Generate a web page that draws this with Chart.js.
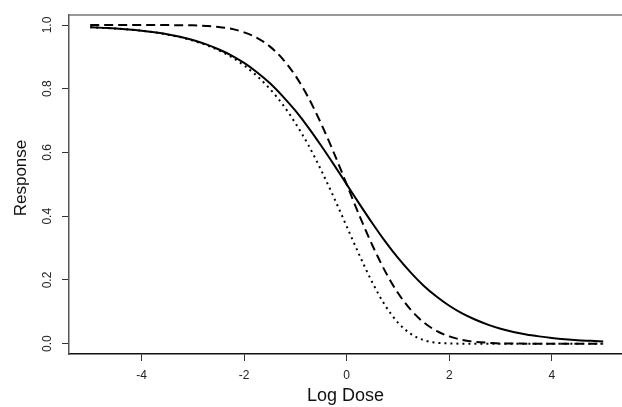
<!DOCTYPE html>
<html>
<head>
<meta charset="utf-8">
<script src="https://cdn.jsdelivr.net/npm/chart.js"></script>
<style>
  body { margin: 0; background: #fff; }
  #wrap { width: 622px; height: 407px; position: relative; }
</style>
</head>
<body>
<div id="wrap"><canvas id="chart"></canvas></div>
<script>
const logDose = [
  -5, -4.75, -4.5, -4.25, -4, -3.75, -3.5, -3.25, -3, -2.75, -2.5, -2.25, -2,
  -1.75, -1.5, -1.25, -1, -0.75, -0.5, -0.25, 0, 0.25, 0.5, 0.75, 1, 1.25,
  1.5, 1.75, 2, 2.25, 2.5, 2.75, 3, 3.25, 3.5, 3.75, 4, 4.25, 4.5, 4.75, 5
];

// Solid curve
const solidResp = [
  0.993, 0.991, 0.989, 0.986, 0.982, 0.977, 0.971, 0.963, 0.953, 0.940, 0.924,
  0.905, 0.881, 0.852, 0.818, 0.777, 0.731, 0.679, 0.622, 0.562, 0.500, 0.438,
  0.378, 0.321, 0.269, 0.223, 0.182, 0.148, 0.119, 0.095, 0.076, 0.060, 0.047,
  0.037, 0.029, 0.023, 0.018, 0.014, 0.011, 0.009, 0.007
];

// Dashed curve
const dashedResp = [
  1.000, 1.000, 1.000, 1.000, 1.000, 1.000, 1.000, 0.999, 0.999, 0.997, 0.994,
  0.988, 0.977, 0.960, 0.933, 0.894, 0.841, 0.773, 0.691, 0.599, 0.500, 0.401,
  0.309, 0.227, 0.159, 0.106, 0.067, 0.040, 0.023, 0.012, 0.006, 0.003, 0.001,
  0.001, 0.000, 0.000, 0.000, 0.000, 0.000, 0.000, 0.000
];

// Dotted curve
const dottedResp = [
  0.993, 0.991, 0.989, 0.986, 0.982, 0.977, 0.970, 0.962, 0.951, 0.938, 0.921,
  0.900, 0.873, 0.840, 0.800, 0.751, 0.692, 0.624, 0.545, 0.459, 0.368, 0.277,
  0.192, 0.120, 0.066, 0.031, 0.011, 0.003, 0.001, 0.000, 0.000, 0.000, 0.000,
  0.000, 0.000, 0.000, 0.000, 0.000, 0.000, 0.000, 0.000
];

// Tick labels
const xTicks = [-4, -2, 0, 2, 4];
const yTicks = [0, 0.2, 0.4, 0.6, 0.8, 1.0];

const FONT = "'Liberation Sans', Arial, sans-serif";

function toPoints(ys) {
  return logDose.map((x, i) => ({ x: x, y: ys[i] }));
}

// Draws the top border, the rotated y tick labels and the y title (R style)
const frame = {
  id: 'frame',
  afterDraw(chart) {
    const ctx = chart.ctx;
    const area = chart.chartArea;
    const y = chart.scales.y;
    ctx.save();
    ctx.strokeStyle = '#777';
    ctx.lineWidth = 1.5;
    ctx.beginPath();
    ctx.moveTo(area.left, area.top);
    ctx.lineTo(chart.width, area.top);
    ctx.stroke();

    ctx.fillStyle = '#222';
    ctx.font = '12px ' + FONT;
    ctx.textAlign = 'center';
    ctx.textBaseline = 'middle';
    yTicks.forEach(v => {
      const py = y.getPixelForValue(v);
      ctx.save();
      ctx.translate(48, py);
      ctx.rotate(-Math.PI / 2);
      ctx.fillText(v.toFixed(1), 0, 0);
      ctx.restore();
    });

    // axis title, a little above the middle like the reference
    ctx.fillStyle = '#111';
    ctx.font = '17px ' + FONT;
    ctx.translate(21, 178);
    ctx.rotate(-Math.PI / 2);
    ctx.fillText('Response', 0, 0);
    ctx.restore();
  }
};

const common = {
  borderColor: '#000',
  borderWidth: 2,
  pointRadius: 0,
  fill: false,
  cubicInterpolationMode: 'monotone'
};

new Chart(document.getElementById('chart'), {
  type: 'line',
  data: {
    datasets: [
      Object.assign({ label: 'solid', data: toPoints(solidResp) }, common),
      Object.assign({ label: 'dashed', data: toPoints(dashedResp), borderDash: [9, 5] }, common),
      Object.assign({ label: 'dotted', data: toPoints(dottedResp), borderDash: [2, 4] }, common)
    ]
  },
  options: {
    responsive: true,
    maintainAspectRatio: false,
    animation: false,
    layout: { padding: { top: 15, right: 0, left: 0, bottom: 0 } },
    plugins: {
      legend: { display: false },
      tooltip: { enabled: false }
    },
    scales: {
      x: {
        type: 'linear',
        min: -5.413,
        max: 5.366,
        afterBuildTicks: scale => { scale.ticks = xTicks.map(v => ({ value: v })); },
        afterFit: scale => { scale.height = 53; },
        grid: { drawOnChartArea: false, drawTicks: true, tickLength: 7, tickColor: '#333' },
        border: { display: true, color: '#111', width: 1.5 },
        ticks: {
          color: '#222',
          padding: 7,
          maxRotation: 0,
          font: { family: FONT, size: 12 },
          callback: v => String(v)
        },
        title: {
          display: true,
          text: 'Log Dose',
          color: '#111',
          padding: { top: 0, bottom: 0 },
          font: { family: FONT, size: 18 }
        }
      },
      y: {
        type: 'linear',
        min: -0.0323,
        max: 1.0314,
        afterBuildTicks: scale => { scale.ticks = yTicks.map(v => ({ value: v })); },
        afterFit: scale => { scale.width = 69; },
        grid: { drawOnChartArea: false, drawTicks: true, tickLength: 7, tickColor: '#333' },
        border: { display: true, color: '#555', width: 1.5 },
        ticks: {
          color: 'rgba(0,0,0,0)',
          font: { family: FONT, size: 12 },
          callback: v => v.toFixed(1)
        },
        title: { display: false }
      }
    }
  },
  plugins: [frame]
});
</script>
</body>
</html>
